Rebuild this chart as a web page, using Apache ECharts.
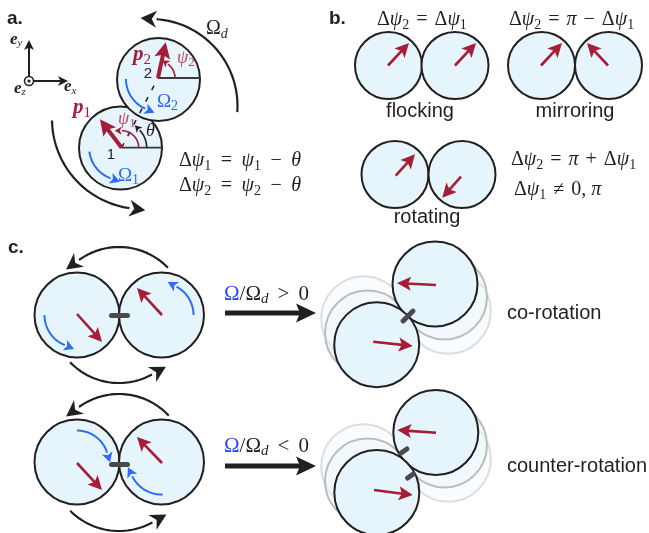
<!DOCTYPE html>
<html>
<head>
<meta charset="utf-8">
<script src="https://cdn.jsdelivr.net/npm/echarts@6/dist/echarts.min.js"></script>
<style>
  html, body { margin: 0; padding: 0; background: #ffffff; }
  #chart { width: 649px; height: 533px; }
</style>
</head>
<body>
<div id="chart"></div>
<script>
// Canvas extent in plot units (1 unit = 1 px, y grows downwards)
const W = 649, H = 533;

// ---- discs: [centre x, centre y, radius] ----
const discs = [
  [120.5, 148, 41.5], [158.5, 79.5, 41.5],                 // a: particles 1 and 2
  [388.5, 65.5, 33.5], [455, 65.5, 33.5],                  // b: flocking
  [541.5, 65.5, 33.5], [608.5, 65.5, 33.5],                // b: mirroring
  [395, 174.5, 33.5], [462, 174.5, 33.5],                  // b: rotating
  [77, 315, 42.5], [161.5, 315, 42.5],                     // c: pair, Omega/Omega_d > 0
  [435, 284, 42.5], [376.7, 344.7, 42.5],                  // c: co-rotation
  [77, 462, 42.5], [161.5, 462, 42.5],                     // c: pair, Omega/Omega_d < 0
  [435.8, 432.5, 42.5], [376.8, 492.5, 42.5]               // c: counter-rotation
];
// earlier positions of the rotating pairs (faint and grey traces)
const tracesFaint = [[363.7, 318.7, 42.5], [448.3, 311.3, 42.5], [363.7, 466.7, 42.5], [448.3, 459.3, 42.5]];
const tracesGrey  = [[367.5, 333, 42.5], [444.5, 297, 42.5], [367.5, 481, 42.5], [444.5, 445, 42.5]];

// ---- polarity vectors: [tail x, tail y, tip x, tip y] ----
const polarityA = [[121.7, 147.7, 100, 119.3], [158, 78, 165.7, 42.3]];
const polarity = [
  [388, 65.5, 409, 43], [455, 65.5, 476, 43],
  [541, 65.5, 562, 43], [608, 65.5, 587, 43],
  [395.7, 175.7, 415, 154.3], [461, 176.7, 442.3, 197.7],
  [77, 314, 102, 342], [162, 315, 137, 288],
  [436, 285, 397, 283], [373.3, 341.7, 412.7, 346],
  [77, 463, 102, 490], [162, 463, 137, 437],
  [436, 432.7, 397.3, 430], [374, 490, 412.7, 495]
];

// ---- spin arcs (blue): [centre x, centre y, radius, start deg, end deg] ----
const spinArcs = [
  [121.7, 147.7, 32.5, 187, 250],
  [158.5, 79, 32.5, 180, 246],
  [77, 315, 32.5, 180, 248],
  [161.5, 315, 32, 0, 62],
  [77, 462, 31.5, 90, 17],
  [161.5, 462, 32.5, 272, 206]
];
// ---- drive arcs (black): [centre x, centre y, radius, start deg, end deg] ----
const driveArcs = [
  [150.5, 106, 87, -4, 86],
  [142, 119, 90, 181, 262],
  [119, 315, 68, 44, 126],
  [119, 315, 68, 224, 299],
  [119, 462, 68, 43, 126],
  [119, 462, 69, 225, 299]
];
// ---- angle markers in a: [centre x, centre y, radius, start deg, end deg] ----
const thetaArc = [[121.7, 147.7, 25, 0, 44]];
const psiArcs = [[121.7, 147.7, 17, 0, 90], [158, 78, 17, 0, 54]];

// ---- straight segments: [x1, y1, x2, y2] ----
const refLines = [[121.7, 147.7, 162, 147.7], [158, 78, 200, 78]];
const centreLine = [[121.7, 147.7, 158, 78]];
const frameArrows = [[33.5, 81, 68, 81], [29, 76.5, 29, 40]];
const frameOrigin = [[29, 81, 4.5]];
const mapArrows = [[225, 313, 316, 313], [225, 466, 316, 466]];
// tethers: [centre x, centre y, angle deg, length]
const tethers = [[119.5, 315.5, 0, 16], [119.5, 464.5, 0, 16], [408, 316, 45, 14], [404, 451, 35, 7], [410.5, 476, 35, 7]];

// ---- text ----
const panelTags = [[7, 19, 'a.'], [329, 19, 'b.'], [8, 248, 'c.']];
const particleIds = [[111, 155, '1'], [148, 74, '2']];
const captionsCentred = [[420, 111, 'flocking'], [575, 111, 'mirroring'], [427, 217, 'rotating']];
const captionsLeft = [[507, 313, 'co-rotation'], [507, 466, 'counter-rotation']];
const formulas = [
  [206, 29, '{r|Ω}{si|d}'],
  [179, 161, '{r|Δ}{i|ψ}{s|1}{opw|=}{i|ψ}{s|1}{opw|−}{i|θ}'],
  [179, 186, '{r|Δ}{i|ψ}{s|2}{opw|=}{i|ψ}{s|2}{opw|−}{i|θ}'],
  [73, 108, '{p|p}{ps|1}'],
  [133, 55, '{p|p}{ps|2}'],
  [118, 119, '{q|ψ}{qs|1}'],
  [177, 58, '{q|ψ}{qs|2}'],
  [146, 131, '{t|θ}'],
  [118, 176, '{oa|Ω}{oas|1}'],
  [157, 102, '{oa|Ω}{oas|2}'],
  [10, 39.5, '{e|e}{es|y}'],
  [64, 87, '{e|e}{es|x}'],
  [14, 88.5, '{e|e}{es|z}'],
  [377, 20, '{r|Δ}{i|ψ}{s|2}{op|=}{r|Δ}{i|ψ}{s|1}'],
  [509, 20, '{r|Δ}{i|ψ}{s|2}{op|=}{i|π}{op|−}{r|Δ}{i|ψ}{s|1}'],
  [511, 160, '{r|Δ}{i|ψ}{s|2}{op|=}{i|π}{op|+}{r|Δ}{i|ψ}{s|1}'],
  [514, 190, '{r|Δ}{i|ψ}{s|1}{op|≠}{r|0, }{i|π}'],
  [224, 294, '{oc|Ω}{rc|/Ω}{sc|d}{opc|>}{rc|0}'],
  [224, 446, '{oc|Ω}{rc|/Ω}{sc|d}{opc|<}{rc|0}']
];

// ---- palette ----
const INK = '#231f20', DISC = '#e6f4fc', RED = '#a51d36', PSI = '#c4475d';
const BLUE = '#2f6cf3', OMEGA_C = '#2f48ef', TETHER = '#4a4a4a';
const SERIF = '"Liberation Serif", "DejaVu Serif", serif';
const SANS = '"Liberation Sans", Arial, sans-serif';

const RICH = {
  r:   { font: `20px ${SERIF}`, fill: INK },
  i:   { font: `italic 20px ${SERIF}`, fill: INK },
  s:   { font: `14px ${SERIF}`, fill: INK, padding: [10, 0, 0, 0] },
  si:  { font: `italic 14px ${SERIF}`, fill: INK, padding: [10, 0, 0, 0] },
  op:  { font: `20px ${SERIF}`, fill: INK, padding: [0, 7, 0, 7] },
  opw: { font: `20px ${SERIF}`, fill: INK, padding: [0, 9.5, 0, 9.5] },
  rc:  { font: `21px ${SERIF}`, fill: INK },
  sc:  { font: `italic 15px ${SERIF}`, fill: INK, padding: [10, 0, 0, 0] },
  opc: { font: `21px ${SERIF}`, fill: INK, padding: [0, 9, 0, 9] },
  oc:  { font: `21px ${SERIF}`, fill: OMEGA_C },
  t:   { font: `italic 18px ${SERIF}`, fill: INK },
  p:   { font: `italic bold 21px ${SERIF}`, fill: RED },
  ps:  { font: `15px ${SERIF}`, fill: RED, padding: [10, 0, 0, 0] },
  q:   { font: `italic 18px ${SERIF}`, fill: PSI },
  qs:  { font: `13px ${SERIF}`, fill: PSI, padding: [9, 0, 0, 0] },
  oa:  { font: `19px ${SERIF}`, fill: BLUE },
  oas: { font: `14px ${SERIF}`, fill: BLUE, padding: [9, 0, 0, 0] },
  e:   { font: `italic bold 17px ${SERIF}`, fill: INK },
  es:  { font: `italic 11px ${SERIF}`, fill: INK, padding: [8, 0, 0, 0] }
};

const rad = a => a * Math.PI / 180;

function arcPoints(api, cx, cy, r, a0, a1) {
  const n = Math.max(10, Math.ceil(Math.abs(a1 - a0) / 2));
  const pts = [];
  for (let k = 0; k <= n; k++) {
    const a = rad(a0 + (a1 - a0) * k / n);
    pts.push(api.coord([cx + r * Math.cos(a), cy - r * Math.sin(a)]));
  }
  return pts;
}

// arrowhead polygon with a notched back
function headPoly(tip, u, L, hw, notch) {
  const bx = tip[0] - u[0] * L, by = tip[1] - u[1] * L;
  const nx = -u[1], ny = u[0];
  return [tip, [bx + nx * hw, by + ny * hw], [bx + u[0] * L * notch, by + u[1] * L * notch], [bx - nx * hw, by - ny * hw]];
}

function straightArrow(color, lw, L, hw, notch) {
  return (d, api) => {
    const a = api.coord([d[0], d[1]]), b = api.coord([d[2], d[3]]);
    const dx = b[0] - a[0], dy = b[1] - a[1], m = Math.hypot(dx, dy);
    const u = [dx / m, dy / m];
    const e = [b[0] - u[0] * L * 0.6, b[1] - u[1] * L * 0.6];
    return { type: 'group', children: [
      { type: 'line', shape: { x1: a[0], y1: a[1], x2: e[0], y2: e[1] }, style: { stroke: color, lineWidth: lw } },
      { type: 'polygon', shape: { points: headPoly(b, u, L, hw, notch) }, style: { fill: color } }
    ] };
  };
}

function arcArrow(color, lw, L, hw, notch) {
  return (d, api) => {
    const pts = arcPoints(api, d[0], d[1], d[2], d[3], d[4]);
    const a = rad(d[4]), s = d[4] > d[3] ? 1 : -1;
    const u = [-s * Math.sin(a), -s * Math.cos(a)];
    const base = pts[pts.length - 1];
    const tip = [base[0] + u[0] * L, base[1] + u[1] * L];
    return { type: 'group', children: [
      { type: 'polyline', shape: { points: pts }, style: { stroke: color, lineWidth: lw, fill: null } },
      { type: 'polygon', shape: { points: headPoly(tip, u, L, hw, notch) }, style: { fill: color } }
    ] };
  };
}

function discLayer(fill, stroke, lw) {
  return (d, api) => {
    const c = api.coord([d[0], d[1]]);
    return { type: 'circle', shape: { cx: c[0], cy: c[1], r: api.size([d[2], 0])[0] },
             style: { fill: fill, stroke: stroke, lineWidth: lw } };
  };
}

function segment(color, lw, dash) {
  return (d, api) => {
    const a = api.coord([d[0], d[1]]), b = api.coord([d[2], d[3]]);
    return { type: 'line', shape: { x1: a[0], y1: a[1], x2: b[0], y2: b[1] },
             style: { stroke: color, lineWidth: lw, lineDash: dash || null } };
  };
}

function tether(d, api) {
  const c = api.coord([d[0], d[1]]);
  const h = api.size([d[3] / 2, 0])[0], a = rad(d[2]);
  const ux = Math.cos(a) * h, uy = -Math.sin(a) * h;
  return { type: 'line', shape: { x1: c[0] - ux, y1: c[1] - uy, x2: c[0] + ux, y2: c[1] + uy },
           style: { stroke: TETHER, lineWidth: 5, lineCap: 'round' } };
}

function origin(d, api) {
  const c = api.coord([d[0], d[1]]), r = api.size([d[2], 0])[0];
  return { type: 'group', children: [
    { type: 'circle', shape: { cx: c[0], cy: c[1], r: r }, style: { fill: '#fff', stroke: INK, lineWidth: 1.6 } },
    { type: 'circle', shape: { cx: c[0], cy: c[1], r: 1.6 }, style: { fill: INK } }
  ] };
}

function plainText(font, align) {
  return (d, api) => {
    const c = api.coord([d[0], d[1]]);
    return { type: 'text', x: c[0], y: c[1],
             style: { text: d[2], font: font, fill: INK, align: align, verticalAlign: 'middle' } };
  };
}

function richText(d, api) {
  const c = api.coord([d[0], d[1]]);
  return { type: 'text', x: c[0], y: c[1],
           style: { text: d[2], rich: RICH, font: `20px ${SERIF}`, fill: INK, align: 'left', verticalAlign: 'middle' } };
}

function layer(rows, draw) {
  return {
    type: 'custom', coordinateSystem: 'cartesian2d', silent: true, clip: false,
    data: rows.map(row => row.filter(v => typeof v === 'number').slice(0, 2)),
    renderItem: (params, api) => draw(rows[params.dataIndex], api)
  };
}

const series = [
  layer(tracesFaint, discLayer('rgba(236,246,253,0.35)', '#dddddd', 2)),
  layer(tracesGrey, discLayer('rgba(236,246,253,0.45)', '#bdbdbd', 2)),
  layer(discs, discLayer(DISC, INK, 2)),
  layer(refLines, segment('#3a3a3a', 1.8)),
  layer(centreLine, segment(INK, 1.5, [5, 8])),
  layer(thetaArc, arcArrow(INK, 1.6, 7, 4, 0.25)),
  layer(psiArcs, arcArrow(RED, 1.6, 7, 4, 0.25)),
  layer(spinArcs, arcArrow(BLUE, 2, 10, 5.5, 0.25)),
  layer(polarityA, straightArrow(RED, 4, 16, 8, 0.2)),
  layer(polarity, straightArrow(RED, 2.6, 14, 7, 0.22)),
  layer(tethers, tether),
  layer(driveArcs, arcArrow(INK, 2.2, 16, 8.5, 0.3)),
  layer(mapArrows, straightArrow(INK, 5, 20, 9.5, 0.2)),
  layer(frameArrows, straightArrow(INK, 2, 10, 5, 0.25)),
  layer(frameOrigin, origin),
  layer(panelTags, plainText(`bold 19px ${SANS}`, 'left')),
  layer(particleIds, plainText(`15px ${SANS}`, 'center')),
  layer(captionsCentred, plainText(`20px ${SANS}`, 'center')),
  layer(captionsLeft, plainText(`20px ${SANS}`, 'left')),
  layer(formulas, richText)
];
series.forEach((s, k) => { s.z = 2 + k; });

const chart = echarts.init(document.getElementById('chart'), null, { renderer: 'canvas' });
chart.setOption({
  animation: false,
  backgroundColor: '#ffffff',
  grid: { left: 0, right: 0, top: 0, bottom: 0, containLabel: false },
  xAxis: { type: 'value', min: 0, max: W, show: false },
  yAxis: { type: 'value', min: 0, max: H, inverse: true, show: false },
  series: series
});
</script>
</body>
</html>
